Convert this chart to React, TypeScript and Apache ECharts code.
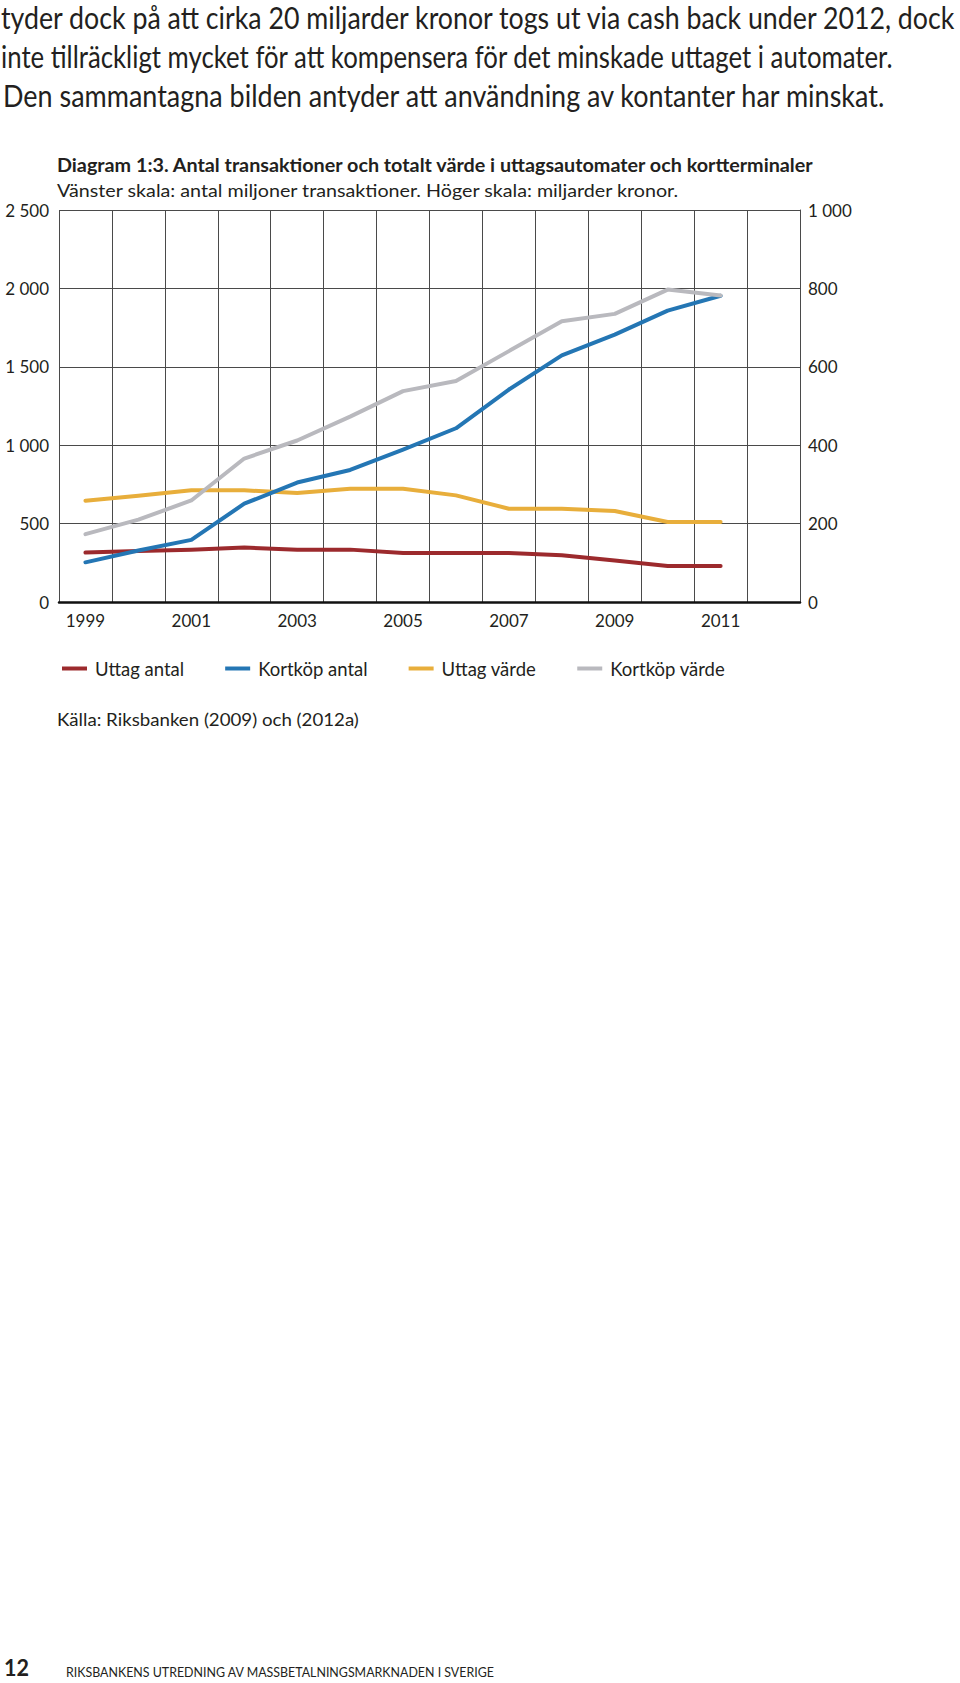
import React, { useEffect, useRef } from "react";
import * as echarts from "echarts";

// ---- data ----
const years = ["1999", "2000", "2001", "2002", "2003", "2004", "2005", "2006", "2007", "2008", "2009", "2010", "2011", "2012"];
const uttagAntal = [315, 325, 334, 347, 334, 334, 313, 313, 313, 298, 264, 230, 230];
const kortkopAntal = [253, 328, 396, 627, 762, 842, 972, 1108, 1355, 1573, 1705, 1858, 1953];
const uttagVarde = [258, 271, 285, 285, 278, 289, 289, 272, 238, 238, 232, 204, 204];
const kortkopVarde = [173, 210, 259, 366, 412, 473, 538, 564, 640, 716, 735, 797, 782];
const seriesNames = ["Uttag antal", "Kortköp antal", "Uttag värde", "Kortköp värde"];
const seriesColors = ["#9c2a2d", "#2476b4", "#e8ae3b", "#b9b9be"];
const leftTicks = { min: 0, max: 2500, interval: 500 };
const rightTicks = { min: 0, max: 1000, interval: 200 };

const bodyLines = [
  "tyder dock på att cirka 20 miljarder kronor togs ut via cash back under 2012, dock",
  "inte tillräckligt mycket för att kompensera för det minskade uttaget i automater.",
  "Den sammantagna bilden antyder att användning av kontanter har minskat.",
];
const titleText = "Diagram 1:3. Antal transaktioner och totalt värde i uttagsautomater och kortterminaler";
const subtitleText = "Vänster skala: antal miljoner transaktioner. Höger skala: miljarder kronor.";
const sourceText = "Källa: Riksbanken (2009) och (2012a)";
const pageNumber = "12";
const footerText = "RIKSBANKENS UTREDNING AV MASSBETALNINGSMARKNADEN I SVERIGE";

const FONT = "Lato, 'Open Sans', sans-serif";
const TEXT = "#231f20";

function measure(text: string, font: string): number {
  const ctx = document.createElement("canvas").getContext("2d");
  if (!ctx) return 0;
  ctx.font = font;
  return ctx.measureText(text).width;
}

function fitText(text: string, x: number, y: number, size: number, weight: string, targetW: number, z = 10) {
  const w = measure(text, `${weight} ${size}px Lato`);
  const sx = w > 0 ? targetW / w : 1;
  return {
    type: "text",
    x,
    y,
    scaleX: sx,
    z,
    style: {
      text,
      fill: TEXT,
      fontFamily: FONT,
      fontSize: size,
      fontWeight: weight,
      textAlign: "left",
      textVerticalAlign: "middle",
    },
  };
}

function thousands(v: number): string {
  if (v >= 1000) {
    return `${Math.floor(v / 1000)} ${String(v % 1000).padStart(3, "0")}`;
  }
  return String(v);
}

export default function App() {
  const ref = useRef<HTMLDivElement>(null);

  useEffect(() => {
    if (!ref.current) return;
    const chart = echarts.init(ref.current, undefined, { renderer: "svg" });

    const graphics: any[] = [
      fitText(bodyLines[0], 1, 17, 30, "normal", 957),
      fitText(bodyLines[1], 1, 56, 30, "normal", 893),
      fitText(bodyLines[2], 3, 95, 30, "normal", 884),
      fitText(titleText, 57, 165, 18, "bold", 758),
      fitText(subtitleText, 57, 190, 18, "normal", 623),
      fitText(sourceText, 57, 719, 18, "normal", 302),
      fitText(pageNumber, 4, 1667, 23, "bold", 25),
      fitText(footerText, 66, 1672, 14, "normal", 429),
    ];

    const makeSeries = (i: number, data: number[], yAxisIndex: number, z: number) => ({
      name: seriesNames[i],
      type: "line",
      data,
      yAxisIndex,
      symbol: "none",
      showSymbol: false,
      z,
      lineStyle: { color: seriesColors[i], width: 4, cap: "round", join: "round" },
      itemStyle: { color: seriesColors[i] },
    });

    chart.setOption({
      animation: false,
      backgroundColor: "#ffffff",
      textStyle: { fontFamily: FONT },
      grid: { left: 59, right: 160, top: 210, bottom: 1081, containLabel: false },
      legend: {
        left: 57,
        top: 654,
        icon: "rect",
        itemWidth: 25,
        itemHeight: 4,
        itemGap: 41,
        data: seriesNames,
        textStyle: { fontFamily: FONT, fontSize: 18.5, color: TEXT, padding: [0, 0, 0, 3] },
      },
      xAxis: {
        type: "category",
        data: years,
        boundaryGap: true,
        axisLine: { show: true, onZero: false, lineStyle: { color: "#111", width: 2.5 } },
        axisTick: { show: false },
        axisLabel: { interval: 1, margin: 10, fontSize: 17, color: TEXT, fontFamily: FONT },
        splitLine: { show: true, interval: 0, lineStyle: { color: "#4a4a4a", width: 1 } },
      },
      yAxis: [
        {
          type: "value",
          position: "left",
          ...leftTicks,
          axisLine: { show: false },
          axisTick: { show: false },
          axisLabel: { margin: 10, fontSize: 17, color: TEXT, fontFamily: FONT, formatter: thousands },
          splitLine: { show: true, lineStyle: { color: "#4a4a4a", width: 1 } },
        },
        {
          type: "value",
          position: "right",
          ...rightTicks,
          axisLine: { show: true, lineStyle: { color: "#4a4a4a", width: 1 } },
          axisTick: { show: false },
          axisLabel: { margin: 8, fontSize: 17, color: TEXT, fontFamily: FONT, formatter: thousands },
          splitLine: { show: false },
        },
      ],
      series: [
        makeSeries(0, uttagAntal, 0, 2),
        makeSeries(1, kortkopAntal, 0, 4),
        makeSeries(2, uttagVarde, 1, 3),
        makeSeries(3, kortkopVarde, 1, 5),
      ],
      graphic: graphics,
    });

    return () => chart.dispose();
  }, []);

  return (
    <div
      ref={ref}
      style={{ position: "absolute", left: 0, top: 0, width: 960, height: 1683, background: "#fff" }}
    />
  );
}
